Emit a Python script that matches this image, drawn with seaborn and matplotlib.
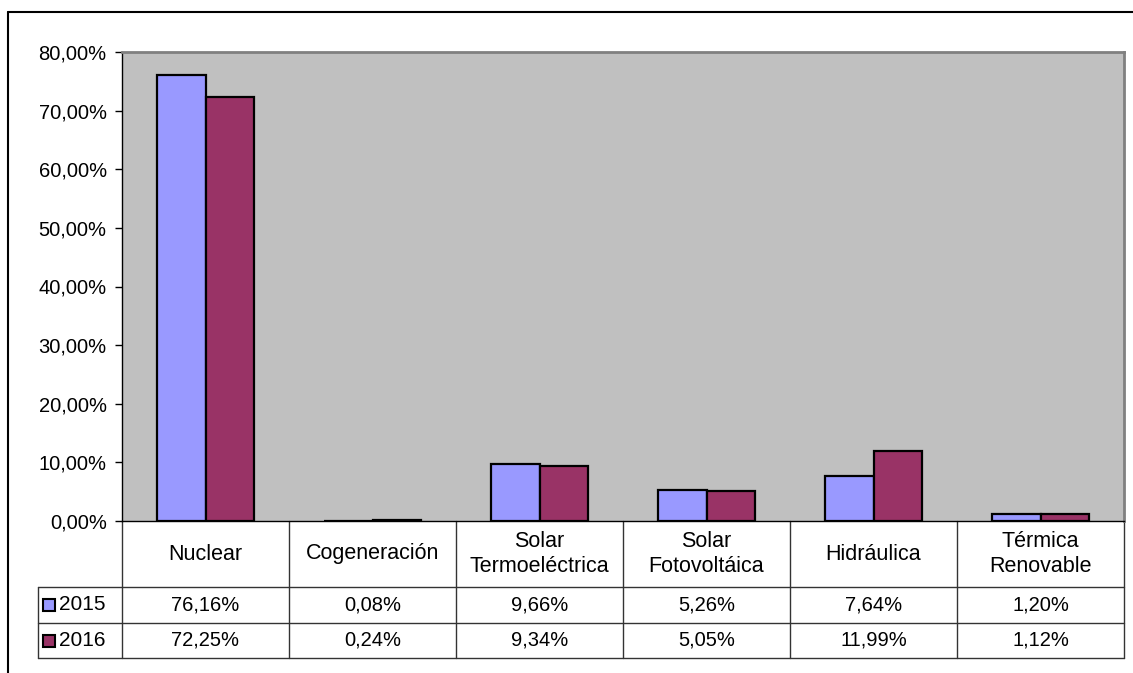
import matplotlib
matplotlib.use("Agg")
import matplotlib.pyplot as plt
from matplotlib.patches import Rectangle
from matplotlib.lines import Line2D
import matplotlib.transforms as mtransforms
import seaborn as sns
import pandas as pd

categories = ["Nuclear", "Cogeneración", "Solar\nTermoeléctrica", "Solar\nFotovoltáica",
              "Hidráulica", "Térmica\nRenovable"]
years = ["2015", "2016"]
values_2015 = [76.16, 0.08, 9.66, 5.26, 7.64, 1.20]
values_2016 = [72.25, 0.24, 9.34, 5.05, 11.99, 1.12]
yticks = [0, 10, 20, 30, 40, 50, 60, 70, 80]
colors = ["#9999FF", "#993366"]

df = pd.DataFrame({
    "cat": categories * 2,
    "year": [years[0]] * len(categories) + [years[1]] * len(categories),
    "val": values_2015 + values_2016,
})

sns.set_theme(style="white")
plt.rcParams["font.family"] = ["Liberation Sans", "DejaVu Sans"]
plt.rcParams["text.color"] = "black"
plt.rcParams["ytick.color"] = "black"
plt.rcParams["ytick.labelcolor"] = "black"

FS_NUM = 14.5
FS_CAT = 15.5

W, H = 1133, 673
fig = plt.figure(figsize=(W / 100, H / 100), dpi=100)
L, R, T, B = 122, 1124, 52, 521
ax = fig.add_axes([L / W, (H - B) / H, (R - L) / W, (B - T) / H])
ax.set_facecolor("#C0C0C0")

sns.barplot(data=df, x="cat", y="val", hue="year", order=categories, hue_order=years,
            palette=colors, edgecolor="black", linewidth=1.6, width=0.575, gap=0,
            legend=False, ax=ax, saturation=1)

ax.set_xlim(-0.5, len(categories) - 0.5)
ax.set_ylim(0, 80)
ax.set_yticks(yticks)
ax.set_yticklabels([f"{v:.2f}".replace(".", ",") + "%" for v in yticks], fontsize=FS_NUM)
ax.tick_params(axis="y", length=5, width=1, color="black", pad=6, left=True)
ax.set_xticks([])
ax.set_xlabel("")
ax.set_ylabel("")
for s in ["left", "bottom"]:
    ax.spines[s].set_color("black")
    ax.spines[s].set_linewidth(1.0)
for s in ["top", "right"]:
    ax.spines[s].set_color("#808080")
    ax.spines[s].set_linewidth(2.0)

# data table below the axes
ph = B - T
pw = R - L
def ay(py):
    return (B - py) / ph
def axx(px):
    return (px - L) / pw

y_head = ay(587)
y_r1 = ay(623)
y_r2 = ay(658)
x_left = axx(38)
tb = mtransforms.blended_transform_factory(ax.transData, ax.transAxes)
lc = "#333333"
lw = 1.0
for k in range(len(categories) + 1):
    ax.add_line(Line2D([k - 0.5, k - 0.5], [0, y_r2], transform=tb, color=lc, lw=lw, clip_on=False))
for yy in [y_head, y_r1, y_r2]:
    ax.add_line(Line2D([x_left, 1], [yy, yy], transform=ax.transAxes, color=lc, lw=lw, clip_on=False))
ax.add_line(Line2D([x_left, x_left], [y_head, y_r2], transform=ax.transAxes, color=lc, lw=lw, clip_on=False))

for i, c in enumerate(categories):
    ax.text(i, (0 + y_head) / 2, c, transform=tb, ha="center", va="center", fontsize=FS_CAT,
            linespacing=1.2, clip_on=False)
    ax.text(i, (y_head + y_r1) / 2, f"{values_2015[i]:.2f}".replace(".", ",") + "%", transform=tb,
            ha="center", va="center", fontsize=FS_NUM, clip_on=False)
    ax.text(i, (y_r1 + y_r2) / 2, f"{values_2016[i]:.2f}".replace(".", ",") + "%", transform=tb,
            ha="center", va="center", fontsize=FS_NUM, clip_on=False)

for (ytop, ybot), yr, col in zip([(y_head, y_r1), (y_r1, y_r2)], years, colors):
    ym = (ytop + ybot) / 2
    ax.add_patch(Rectangle((axx(43), ym - 6 / ph), 12 / pw, 12 / ph, transform=ax.transAxes,
                           facecolor=col, edgecolor="black", lw=1.5, clip_on=False))
    ax.text(axx(59), ym, yr, transform=ax.transAxes, ha="left", va="center", fontsize=FS_NUM + 0.5,
            clip_on=False)

# outer chart border (cut off at right and bottom)
fig.add_artist(Line2D([8 / W, 1], [1 - 12 / H, 1 - 12 / H], transform=fig.transFigure,
                      color="black", lw=1.5))
fig.add_artist(Line2D([8 / W, 8 / W], [0, 1 - 12 / H], transform=fig.transFigure,
                      color="black", lw=1.5))

fig.savefig("out.png", dpi=100)
